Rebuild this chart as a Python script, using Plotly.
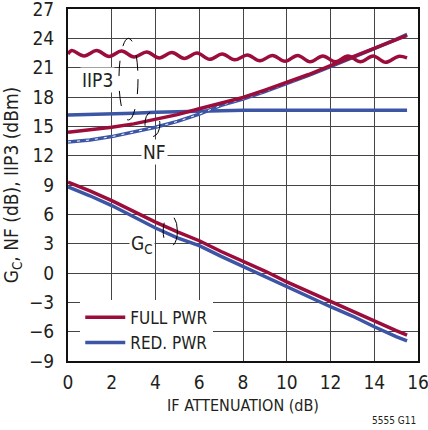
import plotly.graph_objects as go

# ---------------- data ----------------
x_iip3_full = [0, 0.17, 0.74, 1.31, 1.88, 2.45, 3.02, 3.6, 4.17, 4.75, 5.32, 5.9, 6.47,
               7.05, 7.62, 8.2, 8.77, 9.35, 9.92, 10.5, 11.07, 11.65, 12.22, 12.8,
               13.37, 13.95, 14.52, 15.1, 15.5]
iip3_full = [22.4, 22.75, 22.2, 22.75, 22.15, 22.7, 22.1, 22.6, 22.0, 22.55, 21.95, 22.5,
             21.85, 22.4, 21.8, 22.3, 21.7, 22.25, 21.65, 22.25, 21.6, 22.2, 21.6, 22.2,
             21.6, 22.2, 21.55, 22.15, 22.0]

x_att = [0, 1, 2, 3, 4, 5, 6, 7, 8, 9, 10, 11, 12, 13, 14, 15, 15.5]
iip3_red = [16.15, 16.2, 16.25, 16.35, 16.45, 16.5, 16.6, 16.65, 16.65, 16.65, 16.65,
            16.65, 16.65, 16.65, 16.65, 16.65, 16.65]
nf_full = [14.4, 14.65, 14.9, 15.25, 15.7, 16.2, 16.8, 17.4, 17.95, 18.7, 19.5, 20.3,
           21.2, 22.1, 23.0, 23.85, 24.3]
nf_red = [13.4, 13.6, 13.95, 14.4, 14.9, 15.5, 16.25, 17.15, 17.8, 18.55, 19.35, 20.2,
          21.1, 22.0, 22.95, 23.9, 24.4]
gc_full = [9.3, 8.4, 7.4, 6.3, 5.2, 4.2, 3.3, 2.2, 1.2, 0.2, -0.9, -1.9, -2.95, -3.9,
           -4.9, -5.9, -6.35]
gc_red = [8.8, 7.9, 6.9, 5.7, 4.6, 3.6, 2.8, 1.7, 0.65, -0.4, -1.4, -2.4, -3.45, -4.4,
          -5.5, -6.5, -6.95]

series_names = ["FULL PWR", "RED. PWR"]
x_ticks = [0, 2, 4, 6, 8, 10, 12, 14, 16]
y_ticks = [-9, -6, -3, 0, 3, 6, 9, 12, 15, 18, 21, 24, 27]

RED = "#9b0d3a"
BLUE = "#3c55a5"
FONT = "DejaVu Sans Condensed, Liberation Sans Narrow, Arial Narrow, Liberation Sans, sans-serif"
TXT = "#231f20"
LW = 3.5
FS = 19

fig = go.Figure()

# blue (reduced power) traces first, red on top
fig.add_trace(go.Scatter(x=x_att, y=iip3_red, mode="lines", line=dict(color=BLUE, width=LW),
                         name=series_names[1], legendgroup="red", showlegend=True, legendrank=2))
fig.add_trace(go.Scatter(x=x_att, y=nf_red, mode="lines", line=dict(color=BLUE, width=LW),
                         legendgroup="red", showlegend=False))
fig.add_trace(go.Scatter(x=x_att, y=nf_red, mode="lines",
                         line=dict(color="white", width=1, dash="3px,6px"),
                         legendgroup="red", showlegend=False, hoverinfo="skip"))
fig.add_trace(go.Scatter(x=x_att, y=gc_red, mode="lines", line=dict(color=BLUE, width=LW),
                         legendgroup="red", showlegend=False))

fig.add_trace(go.Scatter(x=x_iip3_full, y=iip3_full, mode="lines",
                         line=dict(color=RED, width=LW, shape="spline", smoothing=1.0),
                         name=series_names[0], legendgroup="full", showlegend=True, legendrank=1))
fig.add_trace(go.Scatter(x=x_att, y=nf_full, mode="lines", line=dict(color=RED, width=LW),
                         legendgroup="full", showlegend=False))
fig.add_trace(go.Scatter(x=x_att, y=gc_full, mode="lines", line=dict(color=RED, width=LW),
                         legendgroup="full", showlegend=False))

# dashed ellipses marking curve groups
ell = dict(type="circle", xref="x", yref="y", line=dict(color="black", width=1, dash="longdash"))
fig.add_shape(x0=2.33, x1=3.2, y0=15.65, y1=24.0, **ell)
fig.add_shape(x0=3.52, x1=4.2, y0=13.95, y1=16.5, **ell)
fig.add_shape(x0=4.35, x1=5.0, y0=2.7, y1=5.9, **ell)

lab = dict(xref="x", yref="y", showarrow=False, bgcolor="white",
           font=dict(family=FONT, size=FS, color=TXT), borderpad=1)
fig.add_annotation(x=1.35, y=19.7, text="IIP3", **lab)
fig.add_annotation(x=3.97, y=12.4, text="NF", **lab)
fig.add_annotation(x=3.4, y=2.9, text="G<sub>C</sub>", **lab)

fig.add_annotation(xref="paper", yref="paper", x=1.0, y=-0.19, xanchor="right", yanchor="bottom",
                   text="5555 G11", showarrow=False, font=dict(family=FONT, size=10, color=TXT))

axis_common = dict(showgrid=True, gridcolor="#444444", gridwidth=1, showline=True,
                   linecolor="#111111", linewidth=2, mirror=True, zeroline=False,
                   ticks="", automargin=False, ticklabeloverflow="allow",
                   tickfont=dict(family=FONT, size=FS, color=TXT))

fig.update_xaxes(range=[0, 16], tickvals=x_ticks, ticklabelstandoff=3,
                 title=dict(text="IF ATTENUATION (dB)", font=dict(family=FONT, size=16, color=TXT),
                            standoff=8),
                 **axis_common)
fig.update_yaxes(range=[-9, 27], tickvals=y_ticks, ticklabelstandoff=8,
                 title=dict(text="G<sub>C</sub>, NF (dB), IIP3 (dBm)",
                            font=dict(family=FONT, size=FS, color=TXT), standoff=6),
                 **axis_common)

fig.update_layout(
    width=428, height=430,
    margin=dict(l=68, r=10, t=9, b=69),
    plot_bgcolor="white", paper_bgcolor="white",
    showlegend=True,
    legend=dict(x=0.035, y=0.174, xanchor="left", yanchor="top", bgcolor="white",
                font=dict(family=FONT, size=17, color=TXT), tracegroupgap=0,
                itemwidth=40, borderwidth=0),
    font=dict(family=FONT, color=TXT),
)

# remove the default page margin so the figure sits at the window's top-left corner
fig.write_html("out.html", config={"displayModeBar": False},
               post_script="document.body.style.margin='0';")
